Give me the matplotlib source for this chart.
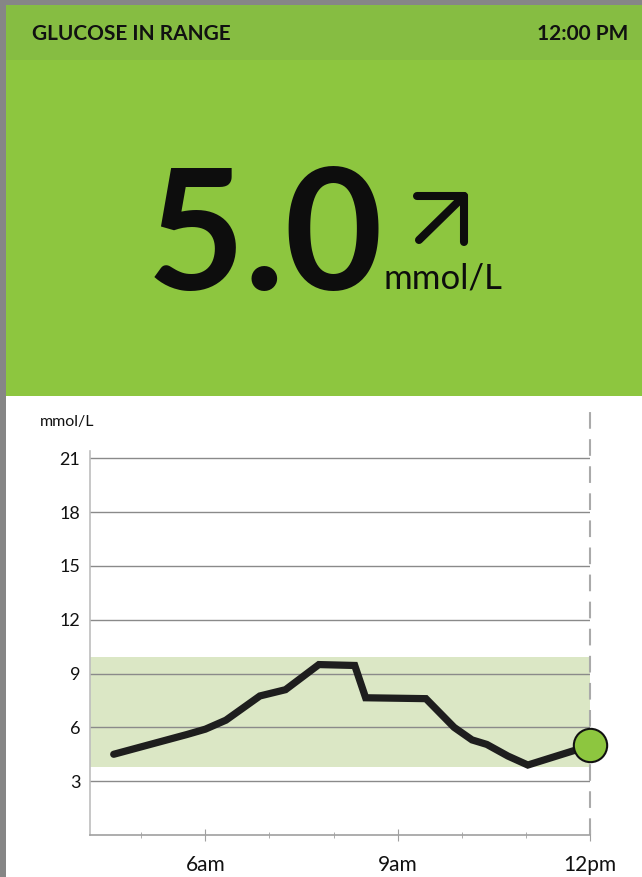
import matplotlib
matplotlib.use("Agg")
import matplotlib.pyplot as plt
from matplotlib.patches import Rectangle

# ---------------------------------------------------------------------------
# Data
# ---------------------------------------------------------------------------
hours = [4.57, 5.71, 6.0, 6.32, 6.85, 7.25, 7.77, 8.33, 8.5, 9.44,
         9.88, 10.16, 10.39, 10.72, 11.03, 11.79, 12.0]
glucose = [4.5, 5.6, 5.9, 6.4, 7.75, 8.1, 9.5, 9.45, 7.65, 7.6,
           6.0, 5.3, 5.05, 4.4, 3.9, 4.75, 5.0]
target_low, target_high = 3.8, 9.9
y_ticks = [3, 6, 9, 12, 15, 18, 21]
x_major = [6, 9, 12]
x_major_labels = ["6am", "9am", "12pm"]
x_minor = [5, 7, 8, 10, 11]
current_value = "5.0"
header_left = "GLUCOSE IN RANGE"
header_right = "12:00 PM"

GREEN = "#8dc63f"
GREEN_DARK = "#86bd42"
BAND = "#dbe7c5"
INK = "#1e1e1e"
FONT = "Lato"

W, H = 642, 877
fig = plt.figure(figsize=(W / 100, H / 100), dpi=100)

# ---------------------------------------------------------------------------
# Background panel in pixel coordinates
# ---------------------------------------------------------------------------
bg = fig.add_axes([0, 0, 1, 1])
bg.set_xlim(0, W)
bg.set_ylim(H, 0)
bg.axis("off")

bg.add_patch(Rectangle((0, 0), W, 396, color=GREEN, lw=0))
bg.add_patch(Rectangle((0, 0), W, 60, color=GREEN_DARK, lw=0))
bg.add_patch(Rectangle((0, 0), 6, H, color="#868686", lw=0))
bg.add_patch(Rectangle((0, 0), W, 5, color="#868686", lw=0))

bg.text(32, 34, header_left, family=FONT, weight="bold", fontsize=15,
        ha="left", va="center", color="#111111")
bg.text(628, 34, header_right, family=FONT, weight="bold", fontsize=15,
        ha="right", va="center", color="#111111")

bg.text(265, 290, current_value, family=FONT, weight="bold", fontsize=122,
        ha="center", va="baseline", color="#0d0d0d")
bg.text(383, 288, "mmol/L", family=FONT, fontsize=25,
        ha="left", va="baseline", color="#0d0d0d")

# trend arrow
bg.plot([419, 464], [240, 196], color="#0d0d0d", lw=5.8, solid_capstyle="round")
bg.plot([417, 464, 464], [196, 196, 242], color="#0d0d0d", lw=5.8,
        solid_capstyle="round", solid_joinstyle="round")

# ---------------------------------------------------------------------------
# Glucose chart
# ---------------------------------------------------------------------------
x0, x1 = 90, 590
y_bottom = 835
px_per_unit = 17.94
ytop_val = 21.4
y_top = y_bottom - ytop_val * px_per_unit

ax = fig.add_axes([x0 / W, (H - y_bottom) / H, (x1 - x0) / W,
                   (y_bottom - y_top) / H])
ax.set_xlim(4.2, 12.0)
ax.set_ylim(0, ytop_val)

ax.axhspan(target_low, target_high, color=BAND, lw=0, zorder=0)
for v in y_ticks:
    ax.axhline(v, color="#8a8a8a", lw=1, zorder=1)

ax.plot(hours, glucose, color=INK, lw=5.2, solid_capstyle="round",
        solid_joinstyle="miter", zorder=3)
ax.plot(hours[-1], glucose[-1], "o", ms=24, mfc=GREEN, mec="#111111",
        mew=1.5, zorder=4, clip_on=False)

ax.axvline(12.0, ymin=0, ymax=(y_bottom - 412) / (y_bottom - y_top),
           color="#aaaaaa", lw=1.5, dashes=(8, 5), clip_on=False, zorder=2)

for s in ["top", "right"]:
    ax.spines[s].set_visible(False)
ax.spines["left"].set_color("#bdbdbd")
ax.spines["bottom"].set_color("#a0a0a0")
ax.spines["left"].set_linewidth(1.2)
ax.spines["bottom"].set_linewidth(1.2)

ax.set_yticks(y_ticks)
ax.set_yticklabels([str(v) for v in y_ticks], family=FONT, fontsize=13,
                   color="#111111")
ax.tick_params(axis="y", length=0, pad=7)

ax.set_xticks(x_major)
ax.set_xticklabels(x_major_labels, family=FONT, fontsize=15, color="#111111")
ax.set_xticks(x_minor, minor=True)
ax.tick_params(axis="x", which="major", direction="inout", length=9,
               color="#a0a0a0", pad=10)
ax.tick_params(axis="x", which="minor", direction="inout", length=5,
               color="#a0a0a0")

fig.text(67 / W, 1 - 422 / H, "mmol/L", family=FONT, fontsize=11.5,
         ha="center", va="center", color="#111111")

fig.savefig("out.png", dpi=100)
